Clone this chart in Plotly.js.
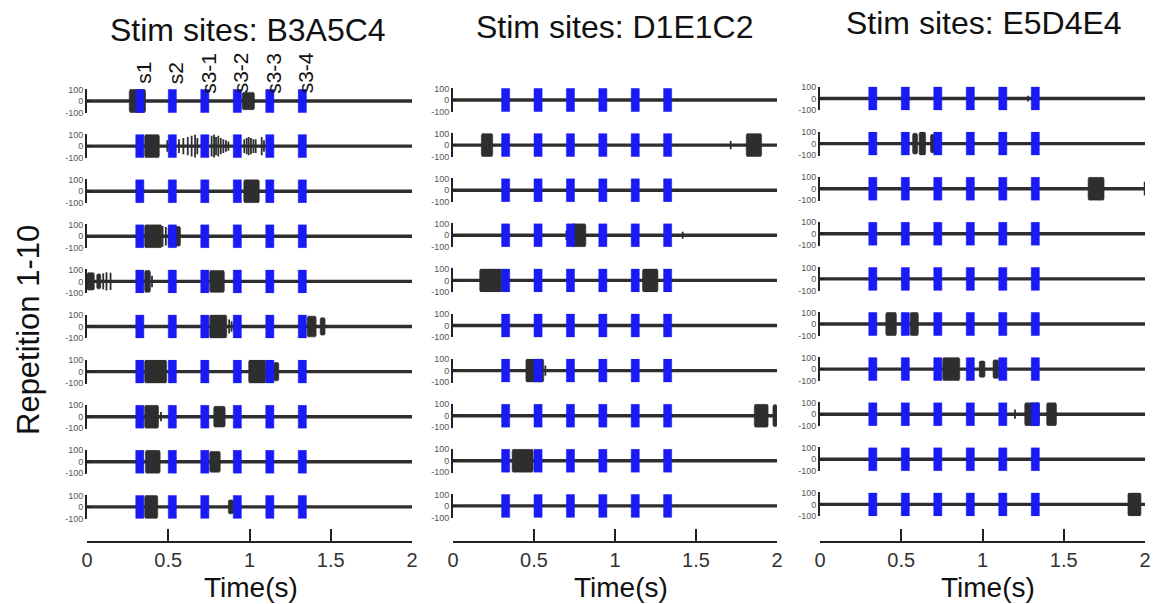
<!DOCTYPE html>
<html><head><meta charset="utf-8">
<script src="https://cdn.plot.ly/plotly-3.0.1.min.js"></script>
<style>html,body{margin:0;padding:0;background:#fff}#chart{width:1155px;height:604px}</style>
</head><body><div id="chart"></div>
<script>
// ---------------- data ----------------
const columnTitles = ['Stim sites: B3A5C4', 'Stim sites: D1E1C2', 'Stim sites: E5D4E4'];
const xAxisTitle = 'Time(s)';
const yAxisTitle = 'Repetition 1-10';
const timeTicks = [0, 0.5, 1, 1.5, 2];
const timeTickLabels = ['0', '0.5', '1', '1.5', '2'];
const ampTicks = [-100, 0, 100];
const ampTickLabels = ['-100', '0', '100'];
const recordSpan = [0, 2];
const stimStarts = [0.30, 0.50, 0.70, 0.90, 1.10, 1.30];
const stimDuration = 0.05;
const stimAmplitude = 100;
const stimLabels = ['s1', 's2', 's3-1', 's3-2', 's3-3', 's3-4'];

// bursts per repetition: [start (s), end (s), amplitude]
const burstsB3A5C4 = [
  [[0.26, 0.36, 100], [0.955, 1.03, 75]],
  [[0.355, 0.445, 100]],
  [[0.965, 1.06, 100]],
  [[0.355, 0.46, 100], [0.50, 0.575, 85]],
  [[0.0, 0.045, 75], [0.06, 0.085, 65], [0.355, 0.39, 95], [0.755, 0.845, 95]],
  [[0.755, 0.86, 100], [1.355, 1.41, 90], [1.435, 1.465, 75]],
  [[0.355, 0.49, 100], [0.995, 1.10, 100], [1.15, 1.18, 80]],
  [[0.355, 0.44, 100], [0.78, 0.85, 90]],
  [[0.36, 0.45, 100], [0.755, 0.82, 90]],
  [[0.355, 0.435, 100], [0.87, 0.90, 60]]
];
const burstsD1E1C2 = [
  [],
  [[0.175, 0.245, 100], [1.81, 1.905, 100]],
  [],
  [[0.735, 0.82, 100]],
  [[0.165, 0.30, 100], [1.17, 1.265, 100]],
  [],
  [[0.45, 0.56, 100]],
  [[1.86, 1.945, 100], [1.975, 2.0, 95]],
  [[0.365, 0.495, 100]],
  []
];
const burstsE5D4E4 = [
  [],
  [[0.57, 0.60, 90], [0.61, 0.65, 100], [0.68, 0.715, 80]],
  [[1.65, 1.748, 100]],
  [],
  [],
  [[0.405, 0.47, 100], [0.555, 0.605, 100]],
  [[0.755, 0.86, 100], [0.98, 1.015, 70], [1.065, 1.10, 80]],
  [[1.26, 1.35, 100], [1.395, 1.455, 100]],
  [],
  [[1.895, 1.975, 100]]
];

// isolated spikes per repetition: [time (s), amplitude]
const spikesB3A5C4 = [
  [],
  [[0.494, 50], [0.51, 40], [0.566, 60], [0.593, 70], [0.62, 80], [0.644, 90], [0.665, 100], [0.679, 70],
   [0.767, 90], [0.782, 100], [0.794, 80], [0.808, 90], [0.823, 70], [0.839, 60], [0.855, 50], [0.87, 40],
   [0.968, 60], [0.983, 70], [0.995, 80], [1.009, 70], [1.024, 60], [1.038, 60], [1.075, 80], [1.089, 50]],
  [],
  [[0.465, 90], [0.485, 80]],
  [[0.10, 70], [0.12, 80], [0.145, 75], [0.40, 50]],
  [[0.875, 60], [0.89, 45], [0.905, 30]],
  [],
  [[0.455, 40]],
  [],
  []
];
const spikesD1E1C2 = [
  [], [[1.714, 35]], [], [[0.70, 40], [1.418, 30]], [], [], [[0.57, 45]], [], [], []
];
const spikesE5D4E4 = [
  [[1.28, 25]], [], [[1.998, 60]], [], [], [], [], [[1.20, 40]], [], []
];

const columnBursts = [burstsB3A5C4, burstsD1E1C2, burstsE5D4E4];
const columnSpikes = [spikesB3A5C4, spikesD1E1C2, spikesE5D4E4];

// ---------------- style / geometry ----------------
const W = 1155, H = 604;
const colPx = [[87, 412], [453, 777], [820, 1145]];
const firstRowPx = [101, 100, 98.5];
const rowStepPx = 45.1;
const pxPerUnit = 0.115;
const yLim = 104;
const axisBottomPx = 542;
const traceColor = '#2e2e2e';
const stimColor = '#1a1af5';
const FONT = 'Liberation Sans, Arial, Helvetica, sans-serif';

const traces = [];
const layout = {
  width: W, height: H,
  margin: {l: 0, r: 0, t: 0, b: 0},
  paper_bgcolor: '#fff', plot_bgcolor: 'rgba(0,0,0,0)',
  showlegend: false, hovermode: false,
  font: {family: FONT, color: '#222'},
  annotations: []
};

function burstPolygon(list) {
  const xs = [], ys = [];
  list.forEach(([t0, t1, a]) => {
    const d = Math.min(0.005, (t1 - t0) / 5);
    xs.push(t0, t0, t0 + d, t1 - d, t1, t1, t1 - d, t0 + d, t0, null);
    ys.push(-0.85 * a, 0.85 * a, a, a, 0.85 * a, -0.85 * a, -a, -a, -0.85 * a, null);
  });
  return {xs, ys};
}

for (let c = 0; c < 3; c++) {
  const xName = c === 0 ? 'xaxis' : 'xaxis' + (c + 1);
  const xRef = c === 0 ? 'x' : 'x' + (c + 1);
  layout[xName] = {
    domain: [colPx[c][0] / W, colPx[c][1] / W],
    range: recordSpan.slice(),
    anchor: 'free', position: 1 - axisBottomPx / H,
    showgrid: false, zeroline: false, showline: true,
    linecolor: '#222', linewidth: 2,
    ticks: 'inside', ticklen: 12, tickwidth: 2, tickcolor: '#222',
    tickmode: 'array', tickvals: timeTicks, ticktext: timeTickLabels,
    tickfont: {size: 20, color: '#333', family: FONT},
    ticklabelstandoff: 0, fixedrange: true
  };
  for (let r = 0; r < 10; r++) {
    const n = c * 10 + r + 1;
    const yName = n === 1 ? 'yaxis' : 'yaxis' + n;
    const yRef = n === 1 ? 'y' : 'y' + n;
    const cpx = firstRowPx[c] + r * rowStepPx;
    const half = yLim * pxPerUnit;
    layout[yName] = {
      domain: [1 - (cpx + half) / H, 1 - (cpx - half) / H],
      range: [-yLim, yLim], anchor: xRef,
      showgrid: false, zeroline: false, showline: true,
      linecolor: '#222', linewidth: 2,
      ticks: 'inside', ticklen: 4, tickwidth: 1.5, tickcolor: '#222',
      tickmode: 'array', tickvals: ampTicks, ticktext: ampTickLabels,
      tickfont: {size: 9, color: '#555', family: FONT},
      fixedrange: true
    };
    // baseline recording
    traces.push({x: recordSpan.slice(), y: [0, 0], xaxis: xRef, yaxis: yRef,
      mode: 'lines', line: {color: traceColor, width: 3.4}});
    // spikes
    const sp = columnSpikes[c][r];
    if (sp.length) {
      const sx = [], sy = [];
      sp.forEach(([t, a]) => { sx.push(t, t, null); sy.push(-a, a, null); });
      traces.push({x: sx, y: sy, xaxis: xRef, yaxis: yRef, mode: 'lines',
        line: {color: traceColor, width: 1.8}});
    }
    // bursts
    const b = columnBursts[c][r];
    if (b.length) {
      const p = burstPolygon(b);
      traces.push({x: p.xs, y: p.ys, xaxis: xRef, yaxis: yRef, mode: 'lines',
        fill: 'toself', fillcolor: traceColor, line: {color: traceColor, width: 0.6}});
    }
    // stimulation bars
    const bx = [], by = [];
    stimStarts.forEach(s => {
      bx.push(s, s + stimDuration, s + stimDuration, s, s, null);
      by.push(-stimAmplitude, -stimAmplitude, stimAmplitude, stimAmplitude, -stimAmplitude, null);
    });
    traces.push({x: bx, y: by, xaxis: xRef, yaxis: yRef, mode: 'lines',
      fill: 'toself', fillcolor: stimColor, line: {color: stimColor, width: 0.5}});
  }
}

// titles
const titleCenterPx = [248, 614, 984];
const titleYPx = [30, 27, 23];
columnTitles.forEach((t, i) => layout.annotations.push({
  text: t, xref: 'paper', yref: 'paper', x: titleCenterPx[i] / W, y: 1 - titleYPx[i] / H,
  xanchor: 'center', yanchor: 'middle', showarrow: false,
  font: {size: 32, color: '#111', family: FONT}
}));
// x-axis titles
const timeCenterPx = [251, 621, 988];
timeCenterPx.forEach(px => layout.annotations.push({
  text: xAxisTitle, xref: 'paper', yref: 'paper', x: px / W, y: 1 - 587 / H,
  xanchor: 'center', yanchor: 'middle', showarrow: false, borderpad: 0,
  font: {size: 28, color: '#111', family: FONT}
}));
// y title
layout.annotations.push({
  text: yAxisTitle, xref: 'paper', yref: 'paper', x: 28 / W, y: 1 - 330 / H,
  xanchor: 'center', yanchor: 'middle', textangle: -90, showarrow: false,
  font: {size: 31, color: '#111', family: FONT}
});
// stim labels
stimLabels.forEach((s, i) => layout.annotations.push({
  text: s, xref: 'x', yref: 'paper', x: stimStarts[i] + stimDuration / 2, y: 1 - 73 / H,
  xanchor: 'center', yanchor: 'middle', textangle: -90, xshift: 3, showarrow: false,
  font: {size: 21, color: '#111', family: FONT}
}));

Plotly.newPlot('chart', traces, layout, {staticPlot: true, displayModeBar: false});
</script>
</body></html>
